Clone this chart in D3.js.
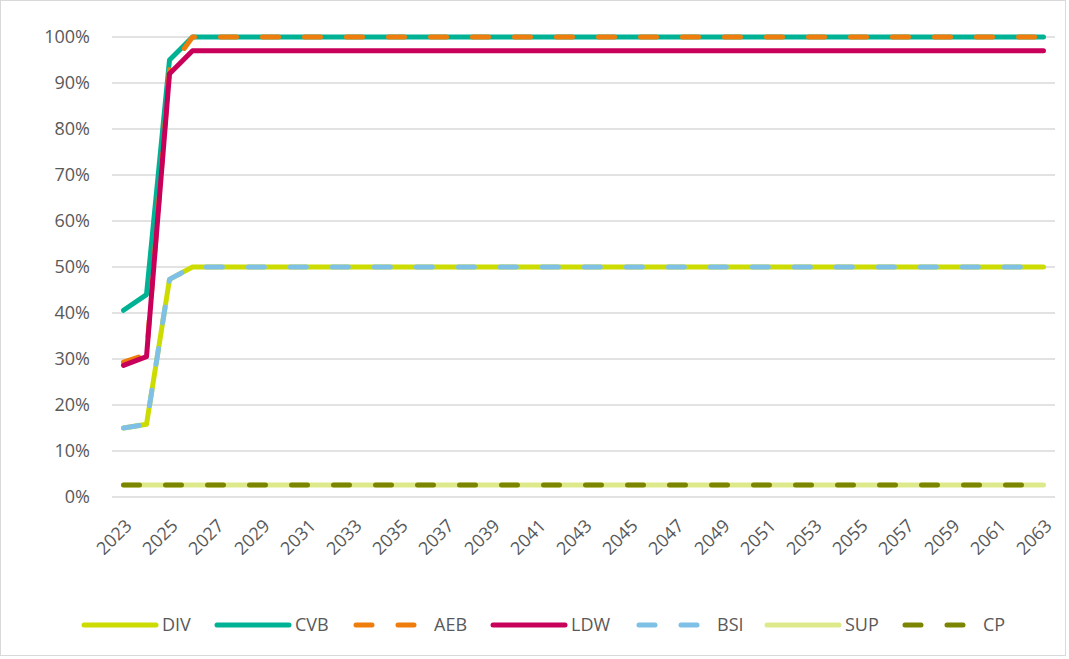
<!DOCTYPE html>
<html lang="en">
<head>
<meta charset="utf-8">
<title>Share by year</title>
<script src="https://d3js.org/d3.v7.min.js"></script>
<style>
body{margin:0;background:#fff;}
text{font-family:"Open Sans","Liberation Sans",sans-serif;fill:#595959;}
</style>
</head>
<body>
<div id="chart"></div>
<script>
// years 2023..2063
var years = []
for (var y = 2023; y <= 2063; y++) years.push(y)

// values in %, first three years then flat
var divVals = [15, 15.8, 47.3].concat(Array(38).fill(50))
var cvbVals = [40.6, 44, 95].concat(Array(38).fill(100))
var aebVals = [29.3, 31, 93].concat(Array(38).fill(100))
var ldwVals = [28.6, 30.5, 92].concat(Array(38).fill(97))
var bsiVals = [15, 15.8, 47.3].concat(Array(38).fill(50))
var supVals = Array(41).fill(2.6)
var cpVals = Array(41).fill(2.6)

var yTicks = [0,10,20,30,40,50,60,70,80,90,100]

var series = [
  {name:"DIV", values:divVals, color:"#cddc00", dash:null},
  {name:"CVB", values:cvbVals, color:"#00b294", dash:null},
  {name:"AEB", values:aebVals, color:"#ee7d0d", dash:"16,26"},
  {name:"LDW", values:ldwVals, color:"#c8005a", dash:null},
  {name:"BSI", values:bsiVals, color:"#7fc0e6", dash:"16,26"},
  {name:"SUP", values:supVals, color:"#dde98a", dash:null},
  {name:"CP", values:cpVals, color:"#7b8500", dash:"16,26"}
]

var w = 1069, h = 659
var plotLeft = 112, plotRight = 1055, plotTop = 37, plotBottom = 497

var svg = d3.select("#chart").append("svg")
  .attr("width", w).attr("height", h)

svg.append("rect")
  .attr("x", 0.5).attr("y", 0.5)
  .attr("width", w - 4).attr("height", h - 4)
  .attr("fill", "#fff").attr("stroke", "#d9d9d9")

var xScale = d3.scalePoint()
  .domain(years)
  .range([plotLeft, plotRight])
  .padding(0.5)
var yScale = d3.scaleLinear()
  .domain([0, 100])
  .range([plotBottom, plotTop])

// gridlines
svg.append("g").selectAll("line")
  .data(yTicks).enter().append("line")
  .attr("x1", plotLeft).attr("x2", plotRight)
  .attr("y1", function(d){ return yScale(d) })
  .attr("y2", function(d){ return yScale(d) })
  .attr("stroke", "#d9d9d9").attr("stroke-width", 1.5)

// y labels
var yAxis = d3.axisLeft(yScale).tickValues(yTicks)
  .tickFormat(function(d){ return d + "%" }).tickSize(0).tickPadding(0)
var gy = svg.append("g").attr("transform", "translate(90,0)").call(yAxis)
gy.select(".domain").remove()
gy.selectAll("text").style("font-size", "18px").attr("fill", "#595959")

// x labels, every other year
var xAxis = d3.axisBottom(xScale)
  .tickValues(years.filter(function(d, i){ return i % 2 == 0 }))
  .tickSize(0)
var gx = svg.append("g").attr("transform", "translate(0," + plotBottom + ")").call(xAxis)
gx.select(".domain").remove()
gx.selectAll("text")
  .style("font-size", "18px").attr("fill", "#595959")
  .attr("text-anchor", "end")
  .attr("dy", null).attr("y", 0)
  .attr("transform", "translate(9,30) rotate(-45)")

// lines
var line = d3.line()
  .x(function(d, i){ return xScale(years[i]) })
  .y(function(d){ return yScale(d) })

series.forEach(function(s){
  svg.append("path")
    .datum(s.values)
    .attr("d", line)
    .attr("fill", "none")
    .attr("stroke", s.color)
    .attr("stroke-width", 5)
    .attr("stroke-linecap", "round")
    .attr("stroke-linejoin", "round")
    .attr("stroke-dasharray", s.dash)
})

// legend
var legX = [84, 217, 356, 493, 639, 767, 905]
var lg = svg.append("g").attr("transform", "translate(0,625)")
series.forEach(function(s, i){
  lg.append("line")
    .attr("x1", legX[i]).attr("x2", legX[i] + 72)
    .attr("y1", 0).attr("y2", 0)
    .attr("stroke", s.color).attr("stroke-width", 5)
    .attr("stroke-linecap", "round")
    .attr("stroke-dasharray", s.dash)
  lg.append("text")
    .attr("x", legX[i] + 78)
    .attr("y", 6)
    .style("font-size", "18px")
    .text(s.name)
})
</script>
</body>
</html>
